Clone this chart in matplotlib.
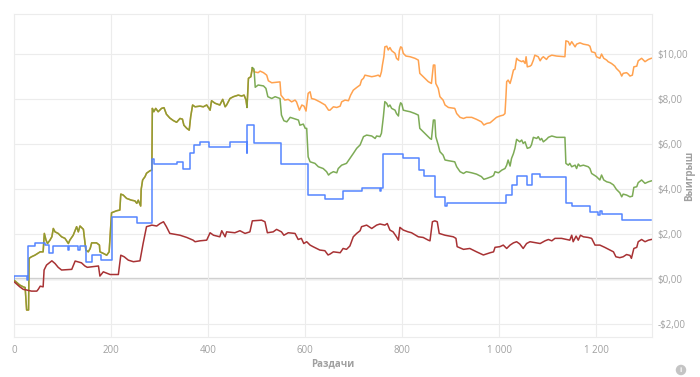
import matplotlib
matplotlib.use("Agg")
import matplotlib.pyplot as plt
from matplotlib.ticker import FuncFormatter, FixedLocator

# ---------------- data (hand number, winnings $) ----------------
green_pts = [
    (0, -0.06), (12, -0.28), (19, -0.36), (23, -0.39), (26, -1.39), (30, -1.39), (31, 0.91), (36, 0.98),
    (43, 1.05), (54, 1.20), (60, 1.20), (62.5, 2.02), (66, 1.72), (69, 1.57), (74, 1.72), (78, 1.87),
    (81, 2.24), (84.5, 2.09), (91, 2.02), (98, 1.87), (105, 1.80), (112, 1.57), (115, 1.72), (122, 1.94),
    (129, 2.32), (132.5, 2.09), (136, 2.35), (143, 2.20), (148, 1.28), (153, 1.20), (157, 1.35), (160, 1.60),
    (170, 1.60), (176, 1.50), (177, 1.20), (184, 1.13), (191, 1.05), (196, 1.20), (201, 2.94), (211.5, 3.03),
    (218, 3.06), (220, 3.77), (225, 3.73), (232, 3.58), (242, 3.50), (249, 3.47), (253, 3.36), (256, 3.50),
    (261, 3.24), (262, 3.98), (265, 4.40), (270, 4.55), (273, 4.70), (280, 4.81), (284, 4.84), (285, 7.59),
    (288, 7.44), (292, 7.59), (297, 7.44), (304, 7.59), (309, 7.62), (314, 7.33), (321, 7.16), (328, 7.05),
    (335, 6.97), (342, 7.14), (347, 7.11), (350, 6.84), (356, 6.70), (361, 6.62), (364, 7.22), (368, 7.74),
    (373, 7.66), (383, 7.69), (390, 7.66), (397, 7.74), (404, 7.51), (407, 7.93), (414, 7.82), (424, 7.74),
    (430, 7.99), (435, 7.66), (438, 7.74), (445, 8.03), (452, 8.11), (462, 8.18), (469, 8.14), (474, 8.18),
    (478, 7.96), (480, 7.63), (483, 8.93), (488, 9.00), (491, 9.40), (494.5, 9.34), (497, 8.53), (503, 8.63),
    (514, 8.59), (519, 8.48), (523, 8.11), (531, 8.03), (538, 8.11), (548, 8.03), (551, 7.29), (556, 7.04),
    (562, 6.99), (569, 7.19), (576, 7.14), (586, 7.07), (589, 6.84), (596, 6.89), (600, 6.70), (603, 6.70),
    (606, 5.43), (610, 5.21), (620, 5.14), (627, 4.99), (637, 4.91), (644, 4.77), (648, 4.62), (652, 4.70),
    (658, 4.77), (665, 4.72), (668, 4.91), (675, 5.06), (685, 5.14), (692, 5.36), (699, 5.58), (706, 5.81),
    (713, 5.96), (720, 6.33), (726.5, 6.40), (737, 6.36), (744, 6.25), (747, 6.36), (754, 6.33), (757, 6.48),
    (761, 7.22), (764, 7.89), (768, 7.81), (771, 7.66), (774.5, 7.74), (778, 7.59), (785, 7.51), (788, 7.36),
    (792, 7.25), (794, 7.66), (796.5, 7.84), (799, 7.78), (802, 7.51), (807.5, 7.48), (816, 7.44), (826, 7.36),
    (833, 7.29), (836, 6.70), (843, 6.55), (850, 6.40), (857, 6.25), (860, 6.21), (864, 7.07), (867, 7.07),
    (869, 6.33), (874, 5.96), (877.5, 5.66), (884, 5.51), (888, 5.29), (895, 5.26), (908, 5.21), (912, 4.99),
    (919, 4.77), (926, 4.69), (932, 4.77), (943, 4.72), (953, 4.66), (963, 4.55), (968, 4.43), (974, 4.47),
    (984, 4.55), (988, 4.60), (991, 4.77), (998, 4.72), (1005, 4.84), (1011.5, 4.91), (1015, 5.06), (1018, 5.29),
    (1022, 5.02), (1025, 5.36), (1029, 5.58), (1032, 5.81), (1035.5, 6.21), (1042, 6.10), (1046, 6.18),
    (1049, 6.03), (1053, 6.10), (1055, 5.96), (1057.5, 5.81), (1063, 5.85), (1066, 5.96), (1070, 6.30),
    (1077, 6.25), (1080, 6.33), (1084, 6.18), (1087, 6.25), (1090.5, 6.10), (1097, 6.21), (1101, 6.30),
    (1108, 6.36), (1118, 6.30), (1135, 6.30), (1137, 5.14), (1142, 5.06), (1145, 5.14), (1149, 4.99),
    (1156, 5.06), (1159, 4.91), (1162.5, 5.11), (1166, 5.02), (1173, 5.06), (1183, 4.99), (1186.5, 4.91),
    (1190, 4.69), (1200, 4.55), (1207, 4.40), (1210.5, 4.62), (1215, 4.40), (1221, 4.32), (1228, 4.28),
    (1235, 4.18), (1241, 3.98), (1248, 3.83), (1252, 3.65), (1255, 3.77), (1262, 3.73), (1269, 3.65),
    (1274, 3.68), (1277, 4.07), (1283, 4.10), (1286, 4.28), (1293, 4.40), (1300, 4.25), (1307, 4.32),
    (1313, 4.36),
]

# orange coincides with green up to hand ~491, then follows its own path
orange_split = 491
orange_late_pts = [
    (494.5, 9.22), (503, 9.18), (507, 9.25), (514, 9.18), (520.6, 9.07), (524, 8.82), (531, 8.73), (548, 8.77),
    (550, 8.18), (558, 7.96), (565, 7.99), (572, 7.88), (579, 7.96), (582, 7.88), (588, 7.51), (593, 7.74),
    (597.5, 7.69), (601.6, 7.47), (606, 8.26), (610, 8.33), (613, 8.03), (620, 7.99), (630, 7.88), (641, 7.74),
    (648, 7.51), (651, 7.51), (658, 7.66), (665, 7.63), (672, 7.69), (675, 7.88), (682, 7.96), (689, 7.93),
    (693.5, 8.18), (699, 8.40), (706, 8.52), (713, 8.63), (716, 8.85), (720, 8.93), (723, 9.07), (737, 9.00),
    (744, 9.03), (750.5, 9.07), (754, 9.00), (757, 9.22), (759, 9.52), (762, 9.89), (764, 10.33), (768, 10.36),
    (771, 10.19), (774.5, 10.30), (778, 10.16), (781, 10.11), (785, 10.04), (788, 9.82), (792, 9.74),
    (794, 10.16), (796.5, 10.33), (799, 10.30), (802, 10.04), (807.5, 9.92), (816, 9.89), (826, 9.82),
    (833, 9.74), (836, 9.15), (843, 9.00), (850, 8.85), (853.5, 8.78), (860, 8.70), (864, 9.52), (867, 9.52),
    (869, 8.70), (874, 8.48), (877.5, 8.11), (884, 7.96), (888, 7.74), (895, 7.63), (908, 7.59), (912, 7.36),
    (919, 7.19), (926, 7.14), (932, 7.19), (943, 7.19), (953, 7.10), (963, 6.99), (968, 6.85), (974, 6.92),
    (981, 6.95), (987.5, 7.07), (994, 7.19), (1001, 7.25), (1008, 7.29), (1011.5, 7.36), (1013.5, 8.11),
    (1015, 8.78), (1018, 8.85), (1022, 8.70), (1025, 8.93), (1029, 9.30), (1032, 9.33), (1035.5, 9.82),
    (1039, 9.74), (1046, 9.67), (1049, 9.71), (1053, 9.59), (1055, 9.89), (1057.5, 9.44), (1063, 9.47),
    (1066, 9.52), (1070, 9.74), (1073, 9.96), (1080, 9.89), (1084, 9.71), (1087, 9.82), (1090.5, 9.89),
    (1097, 9.77), (1101, 9.89), (1108, 9.96), (1118, 9.92), (1135, 9.89), (1137, 10.60), (1142, 10.56),
    (1145, 10.41), (1149, 10.56), (1156, 10.33), (1159, 10.45), (1166, 10.51), (1173, 10.45), (1183, 10.41),
    (1186.5, 10.36), (1190, 10.11), (1197, 10.07), (1200, 9.89), (1207, 9.82), (1210.5, 10.01), (1215, 9.82),
    (1221, 9.74), (1224, 9.67), (1231, 9.59), (1238, 9.47), (1241, 9.37), (1248, 9.22), (1252, 9.03),
    (1255, 9.15), (1262, 9.18), (1265.5, 9.12), (1269, 9.03), (1274, 9.07), (1277, 9.44), (1283, 9.47),
    (1286, 9.71), (1293, 9.82), (1300, 9.67), (1307, 9.77), (1313, 9.82),
]

blue_pts = [
    (0, 0.00), (1, 0.12), (26, -0.05), (29, 1.46), (43, 1.60), (64, 1.50), (73, 1.13), (80, 1.46),
    (112, 1.28), (114, 1.46), (132, 1.28), (135, 1.46), (148, 0.76), (160, 1.06), (179, 0.83), (201, 2.76),
    (253, 2.47), (285, 5.32), (288, 5.10), (335, 5.20), (348, 4.89), (363, 5.58), (371, 5.96), (383, 6.08),
    (401, 5.88), (445, 6.08), (479, 5.58), (481, 6.85), (495, 6.03), (550, 5.10), (606, 3.73), (641, 3.55),
    (678, 3.90), (716, 4.03), (754, 3.92), (756, 4.03), (761, 5.55), (802, 5.36), (835, 4.84), (845, 4.59),
    (867, 3.63), (888, 3.24), (893, 3.36), (1014, 3.73), (1027, 4.17), (1037, 4.59), (1056, 4.17),
    (1067, 4.66), (1084, 4.52), (1137, 3.36), (1149, 3.24), (1187, 2.98), (1204, 2.84), (1207, 3.03),
    (1211, 2.88), (1252, 2.61), (1313, 2.61),
]

red_pts = [
    (0, -0.13), (12, -0.36), (19, -0.47), (26, -0.50), (36, -0.55), (47, -0.55), (50, -0.47), (54, -0.33),
    (60, -0.36), (62, 0.39), (67, 0.61), (78, 0.80), (84.5, 0.68), (91, 0.51), (98, 0.39), (119, 0.42),
    (126, 0.79), (139, 0.71), (146, 0.57), (151, 0.51), (174, 0.57), (177, 0.12), (184, 0.31), (198, 0.19),
    (215, 0.19), (220, 1.05), (227, 0.98), (235.5, 0.83), (246, 0.76), (259.5, 0.80), (266, 1.57), (273, 2.32),
    (284, 2.39), (294, 2.35), (301, 2.46), (308, 2.54), (314, 2.32), (321, 2.02), (342, 1.94), (356, 1.84),
    (369, 1.72), (373, 1.65), (383, 1.69), (397, 1.72), (404, 2.05), (411, 1.94), (424, 1.87), (428, 2.14),
    (435, 1.87), (438, 2.09), (455, 2.05), (465.5, 2.14), (476, 2.02), (486, 2.09), (491, 2.58), (510, 2.61),
    (517, 2.54), (522, 2.05), (534, 2.09), (541, 2.20), (551, 2.09), (556, 1.94), (565, 2.05), (579, 2.02),
    (585.5, 1.75), (592, 1.80), (597, 1.57), (603, 1.65), (610, 1.50), (616, 1.43), (630, 1.28), (640.5, 1.25),
    (647, 1.06), (651, 1.10), (658, 1.20), (672, 1.16), (678, 1.35), (685, 1.31), (692, 1.46), (699, 1.87),
    (706, 2.02), (713, 2.14), (716, 2.32), (726.5, 2.39), (737, 2.24), (747, 2.39), (754, 2.44), (764, 2.39),
    (769, 2.46), (774.5, 2.17), (781, 2.09), (788, 1.87), (792, 1.72), (795, 2.29), (802, 2.17), (812, 2.09),
    (819, 2.05), (833, 1.87), (843, 1.84), (853.5, 1.72), (857, 1.69), (862, 2.54), (867, 2.58), (872, 2.54),
    (876, 2.02), (888, 1.94), (905, 1.87), (910.5, 1.80), (913, 1.43), (926, 1.31), (939, 1.35), (953, 1.20),
    (967, 1.06), (977, 1.13), (981, 1.16), (988, 1.20), (991, 1.40), (1001, 1.43), (1008, 1.50), (1015, 1.35),
    (1022, 1.50), (1029, 1.60), (1035.5, 1.65), (1042, 1.55), (1049, 1.35), (1056, 1.57), (1063, 1.65),
    (1077, 1.60), (1084, 1.57), (1094, 1.69), (1101, 1.75), (1108, 1.69), (1114.5, 1.80), (1128, 1.80),
    (1138.5, 1.75), (1145, 1.72), (1149, 1.94), (1152, 1.65), (1158, 1.90), (1162.5, 1.72), (1167, 1.94),
    (1173, 1.87), (1183, 1.84), (1190, 1.80), (1197, 1.50), (1207, 1.50), (1217, 1.40), (1228, 1.28),
    (1235, 1.20), (1240, 0.98), (1248, 0.94), (1255, 0.98), (1262, 1.08), (1269, 1.04), (1272, 0.91),
    (1277, 1.35), (1283, 1.40), (1286, 1.65), (1293, 1.75), (1300, 1.65), (1307, 1.72), (1313, 1.75),
]

x_ticks = [0, 200, 400, 600, 800, 1000, 1200]
y_ticks = [-2, 0, 2, 4, 6, 8, 10]
x_label = "Раздачи"
y_label = "Выигрыш"

# ---------------- helpers ----------------
def unzip(pts):
    return [p[0] for p in pts], [p[1] for p in pts]

orange_pts = [p for p in green_pts if p[0] <= orange_split] + orange_late_pts
green_shared = [p for p in green_pts if p[0] <= orange_split]
green_own = [p for p in green_pts if p[0] >= orange_split]

C_ORANGE = "#ffa24f"
C_GREEN = "#6fa244"
C_OLIVE = "#8c9c34"
C_BLUE = "#5585ff"
C_RED = "#a83234"
C_GRID = "#ececec"
C_TEXT = "#a0a0a0"

plt.rcParams["font.family"] = ["Open Sans", "DejaVu Sans"]

fig = plt.figure(figsize=(7.0, 3.77), dpi=100)
ax = fig.add_axes([14 / 700, 1 - 336.7 / 377, (652 - 14) / 700, (336.7 - 14.3) / 377])

ax.set_xlim(0, 1314.4)
ax.set_ylim(-2.58, 11.78)

ax.xaxis.set_major_locator(FixedLocator(x_ticks))
ax.yaxis.set_major_locator(FixedLocator(y_ticks))
ax.grid(True, color=C_GRID, linewidth=0.8, zorder=0)
for s in ax.spines.values():
    s.set_color(C_GRID)
    s.set_linewidth(0.8)

ax.axhline(0, color="#cfcfcf", linewidth=1.7, zorder=1)

# orange (hidden under green where they coincide)
x, y = unzip(orange_pts)
ax.plot(x, y, color=C_ORANGE, lw=1.1, zorder=2)
# green: olive where it overlaps orange, own green afterwards
x, y = unzip(green_shared)
ax.plot(x, y, color=C_OLIVE, lw=1.1, zorder=3)
x, y = unzip(green_own)
ax.plot(x, y, color=C_GREEN, lw=1.1, alpha=0.9, zorder=3)
x, y = unzip(blue_pts)
ax.plot(x, y, color=C_BLUE, lw=1.1, drawstyle="steps-post", zorder=4)
x, y = unzip(red_pts)
ax.plot(x, y, color=C_RED, lw=1.1, zorder=5)

ax.yaxis.tick_right()

def money(v, pos):
    s = "${:,.2f}".format(abs(v)).replace(".", ",")
    return ("-" + s) if v < 0 else s

def hands(v, pos):
    return "{:,.0f}".format(v).replace(",", " ")

ax.yaxis.set_major_formatter(FuncFormatter(money))
ax.xaxis.set_major_formatter(FuncFormatter(hands))
ax.tick_params(axis="both", length=0, labelsize=7, labelcolor=C_TEXT)
ax.tick_params(axis="y", pad=4)
ax.tick_params(axis="x", pad=6)

fig.text(333 / 700, 1 - 364 / 377, x_label, ha="center", va="center",
         fontsize=7, fontweight="bold", color=C_TEXT)
fig.text(690 / 700, 1 - 176 / 377, y_label, ha="center", va="center", rotation=90,
         fontsize=7, fontweight="bold", color=C_TEXT)
fig.text(681 / 700, 1 - 370 / 377, "i", ha="center", va="center", fontsize=5,
         fontweight="bold", color="white",
         bbox=dict(boxstyle="circle,pad=0.25", fc="#c4c4c4", ec="none"))

fig.savefig("out.png", dpi=100)
